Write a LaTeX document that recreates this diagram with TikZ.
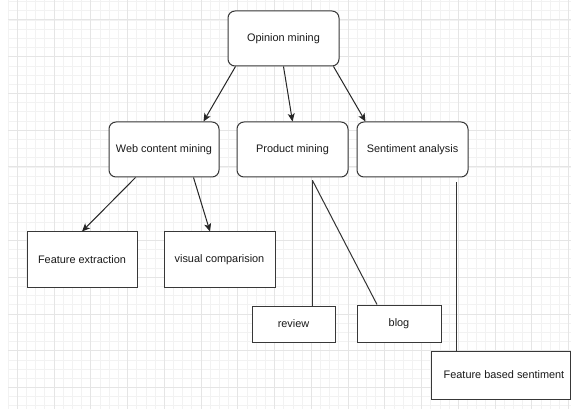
\documentclass[tikz,border=0pt]{standalone}
\usepackage{fontspec}
\setmainfont{Liberation Sans}
\usetikzlibrary{arrows.meta}
\begin{document}
\begin{tikzpicture}[x=1pt,y=-1pt,
  box/.style={draw=black!78, line width=1pt, fill=white, inner sep=0pt,
    text=black!90, font=\fontsize{10.9}{13}\selectfont},
  rbox/.style={box, rounded corners=7pt},
  arr/.style={draw=black!85, line width=1pt,
    -{Stealth[length=8pt,width=7pt,inset=2pt]}},
  link/.style={draw=black!80, line width=1pt},
  minorline/.style={draw=black!5, line width=0.8pt},
  majorline/.style={draw=black!10, line width=1pt}]
  \useasboundingbox (0,0) rectangle (571,409);
  \fill[white] (0,0) rectangle (571,409);

  % background grid
  \foreach \i in {0,...,61}
    \draw[minorline] ({8.1+9.1875*\i},0) -- ({8.1+9.1875*\i},409);
  \foreach \j in {0,...,44}
    \draw[minorline] (8.1,{1.625+9.1875*\j}) -- (571,{1.625+9.1875*\j});
  \foreach \i in {0,...,15}
    \draw[majorline] ({17.3+36.75*\i},0) -- ({17.3+36.75*\i},409);
  \foreach \k in {0,...,10}
    \draw[majorline] (8.1,{20+36.75*\k}) -- (571,{20+36.75*\k});

  % boxes
  \node[rbox, minimum width=111pt, minimum height=55pt] (op)   at (283.5,38.5)  {Opinion mining};
  \node[rbox, minimum width=110pt, minimum height=55pt] (web)  at (164,149.5)   {Web content mining};
  \node[rbox, minimum width=111pt, minimum height=55pt] (prod) at (292.5,149.5) {Product mining};
  \node[rbox, minimum width=111pt, minimum height=55pt] (sent) at (412.5,149.5) {Sentiment analysis};
  \node[box, minimum width=110pt, minimum height=55pt] (fe)   at (82,259.5)    {Feature extraction};
  \node[box, minimum width=111pt, minimum height=55pt] (vc)   at (219.5,259.5) {visual comparision};
  \node[box, minimum width=83pt,  minimum height=36pt] (rev)  at (293.5,324)   {review};
  \node[box, minimum width=84pt,  minimum height=37pt] (blog) at (399,323.5)   {blog};
  \node[box, minimum width=139pt, minimum height=48pt] (fbs)  at (500.5,375)   {\hspace*{7pt}Feature based sentiment};

  % arrows
  \draw[arr] ([xshift=8pt]op.south west) -- ([xshift=-16pt]web.north east);
  \draw[arr] (op.south) -- (prod.north);
  \draw[arr] ([xshift=-6pt]op.south east) -- ([xshift=9pt]sent.north west);
  \draw[arr] ([xshift=27pt]web.south west) -- (fe.north);
  \draw[arr] ([xshift=-26pt]web.south east) -- ([xshift=-9.5pt]vc.north);

  % plain links
  \coordinate (pm) at ([xshift=20pt,yshift=-3pt]prod.south);
  \draw[link] (pm) -- (pm |- rev.north);
  \draw[link] (pm) -- ([xshift=20.5pt]blog.north west);
  \coordinate (sa) at ([xshift=-12pt,yshift=-5pt]sent.south east);
  \draw[link] (sa) -- (sa |- fbs.north);
\end{tikzpicture}
\end{document}
